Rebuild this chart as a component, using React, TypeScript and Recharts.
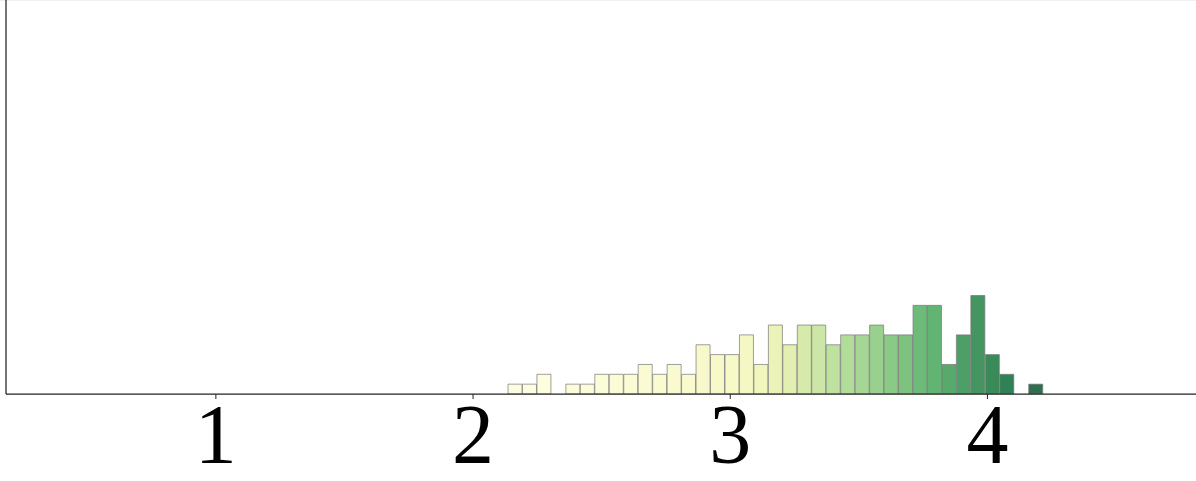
import React from "react";
import { BarChart, Bar, XAxis, YAxis, Cell } from "recharts";

// Histogram bin centres (x value of each bin)
const binCenters: number[] = [
  2.1641, 2.2203, 2.2765, 2.3328, 2.389, 2.4453, 2.5015, 2.5577, 2.614, 2.6702,
  2.7265, 2.7827, 2.8389, 2.8952, 2.9514, 3.0077, 3.0639, 3.1201, 3.1764, 3.2326,
  3.2889, 3.3451, 3.4013, 3.4576, 3.5138, 3.5701, 3.6263, 3.6825, 3.7388, 3.795,
  3.8513, 3.9075, 3.9637, 4.02, 4.0762, 4.1325, 4.1887,
];

// Counts per bin
const binCounts: number[] = [
  1, 1, 2, 0, 1, 1, 2, 2, 2, 3, 2, 3, 2, 5, 4, 4, 6, 3, 7, 5, 7, 7, 5, 6, 6, 7, 6,
  6, 9, 9, 3, 6, 10, 4, 2, 0, 1,
];

// Fill colour of each bin (yellow -> green)
const binColors: string[] = [
  "#fdfde1", "#fdfde1", "#fdfddf", "#fcfcdc", "#fcfcdb", "#fcfcda", "#fbfcd8",
  "#fbfbd6", "#fbfbd5", "#fafbd3", "#fafbd1", "#f9facf", "#f9facd", "#f8f9cb",
  "#f8f9c9", "#f7f9c7", "#f5f8c3", "#f1f6bd", "#ebf3b6", "#e2efb1", "#d6eaab",
  "#cce6a7", "#bfe1a0", "#b2dc99", "#a6d694", "#99d08e", "#8bc987", "#7dc27f",
  "#6dbb78", "#62b472", "#57aa6b", "#4c9f65", "#44955f", "#3a8b5a", "#318157",
  "#2f7653", "#2f6f50",
];

const xTicks: number[] = [1, 2, 3, 4];
const xDomain: [number, number] = [0.184, 4.811];
const yDomain: [number, number] = [0, 40];

const data = binCenters.map((x, i) => ({ x, count: binCounts[i] }));

const SerifTick = (props: any) => {
  const { x, y, payload } = props;
  return (
    <text
      x={x}
      y={y + 62}
      textAnchor="middle"
      fill="#000"
      fontFamily="'Liberation Serif', 'DejaVu Serif', serif"
      fontSize={84}
    >
      {payload.value}
    </text>
  );
};

export default function App() {
  return (
    <div style={{ position: "absolute", left: 0, top: 0, width: 1196, height: 481, background: "#fff" }}>
      <div style={{ position: "absolute", left: 0, top: 0, width: 1196, height: 1, background: "#efefef" }} />
      <BarChart
        width={1196}
        height={481}
        data={data}
        margin={{ top: 0, right: 0, bottom: 0, left: 0 }}
        barCategoryGap={0}
        barGap={0}
      >
        <XAxis
          dataKey="x"
          type="number"
          domain={xDomain}
          allowDataOverflow
          ticks={xTicks}
          height={87}
          tickSize={5}
          tickMargin={2}
          axisLine={{ stroke: "#222", strokeWidth: 1.25 }}
          tickLine={{ stroke: "#222", strokeWidth: 1 }}
          tick={<SerifTick />}
        />
        <YAxis
          type="number"
          domain={yDomain}
          allowDataOverflow
          width={6}
          tick={false}
          tickLine={false}
          axisLine={{ stroke: "#222", strokeWidth: 1.25 }}
        />
        <Bar
          dataKey="count"
          isAnimationActive={false}
          stroke="rgba(120,120,120,0.7)"
          strokeWidth={1}
        >
          {data.map((d, i) => (
            <Cell key={i} fill={binColors[i]} />
          ))}
        </Bar>
      </BarChart>
    </div>
  );
}
